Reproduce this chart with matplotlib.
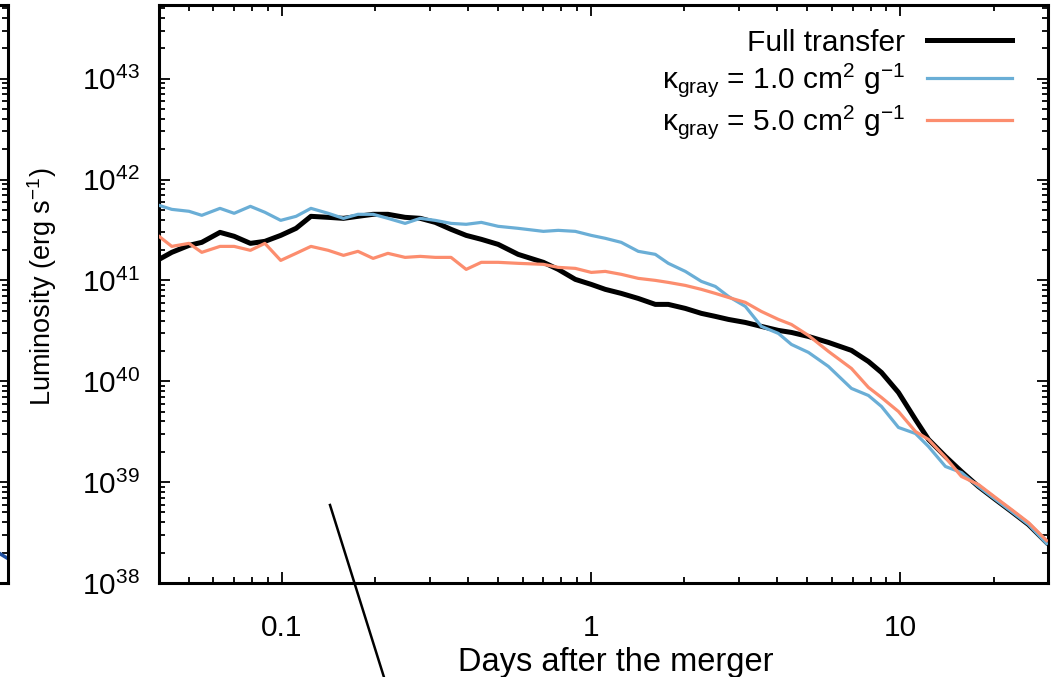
import numpy as np
import matplotlib
matplotlib.use('Agg')
import matplotlib.pyplot as plt
from matplotlib.lines import Line2D

plt.rcParams['font.family'] = ['Liberation Sans', 'DejaVu Sans']
plt.rcParams['mathtext.fontset'] = 'custom'
plt.rcParams['mathtext.rm'] = 'Liberation Sans'
plt.rcParams['mathtext.it'] = 'Liberation Sans:italic'
plt.rcParams['mathtext.bf'] = 'Liberation Sans:bold'

# Data: days after merger, log10 luminosity (erg/s)
days = [0.040, 0.044, 0.050, 0.055, 0.063, 0.070, 0.079, 0.088, 0.099, 0.111,
        0.124, 0.141, 0.158, 0.176, 0.197, 0.220, 0.250, 0.280, 0.313, 0.352,
        0.394, 0.441, 0.500, 0.580, 0.700, 0.782, 0.888, 1.000, 1.110, 1.250,
        1.419, 1.611, 1.775, 2.015, 2.270, 2.519, 2.777, 3.150, 3.549, 4.030,
        4.439, 5.040, 5.848, 6.941, 7.878, 8.682, 9.851, 11.18, 12.32, 13.98,
        15.75, 17.88, 20.30, 22.87, 25.95, 29.69]

logL_full = [41.208, 41.278, 41.347, 41.377, 41.476, 41.437, 41.367, 41.387, 41.446, 41.516,
             41.635, 41.625, 41.615, 41.635, 41.655, 41.655, 41.625, 41.615, 41.575, 41.506,
             41.446, 41.407, 41.357, 41.258, 41.179, 41.109, 41.010, 40.960, 40.911, 40.871,
             40.821, 40.762, 40.762, 40.722, 40.673, 40.643, 40.613, 40.583, 40.544, 40.504,
             40.484, 40.444, 40.385, 40.306, 40.196, 40.087, 39.889, 39.621, 39.423, 39.254,
             39.105, 38.956, 38.827, 38.708, 38.579, 38.401]

logL_k1 = [41.744, 41.704, 41.685, 41.645, 41.714, 41.665, 41.734, 41.675, 41.595, 41.635,
           41.714, 41.665, 41.615, 41.655, 41.655, 41.615, 41.565, 41.615, 41.595, 41.565,
           41.556, 41.575, 41.536, 41.516, 41.486, 41.496, 41.486, 41.446, 41.417, 41.377,
           41.288, 41.258, 41.169, 41.089, 40.990, 40.940, 40.841, 40.742, 40.544, 40.474,
           40.365, 40.286, 40.147, 39.929, 39.859, 39.750, 39.542, 39.482, 39.353, 39.155,
           39.095, 38.956, 38.827, 38.708, 38.579, 38.391]

logL_k5 = [41.437, 41.337, 41.367, 41.278, 41.337, 41.337, 41.298, 41.367, 41.198, 41.268,
           41.337, 41.298, 41.248, 41.288, 41.218, 41.268, 41.228, 41.238, 41.228, 41.228,
           41.109, 41.179, 41.179, 41.169, 41.159, 41.129, 41.119, 41.079, 41.089, 41.060,
           41.020, 41.000, 40.980, 40.950, 40.911, 40.871, 40.831, 40.782, 40.692, 40.613,
           40.563, 40.454, 40.296, 40.127, 39.939, 39.839, 39.700, 39.502, 39.423, 39.244,
           39.056, 38.976, 38.847, 38.728, 38.599, 38.421]

# neighbouring (cropped) panel on the left
left_days = [25.95, 29.69]
left_logL = [38.36, 38.25]

labels = ['Full transfer',
          'κ$_{\\mathregular{gray}}$ = 1.0 cm$^{\\mathregular{2}}$ g$^{\\mathregular{-1}}$',
          'κ$_{\\mathregular{gray}}$ = 5.0 cm$^{\\mathregular{2}}$ g$^{\\mathregular{-1}}$']
xtick_vals = [0.1, 1, 10]
xtick_labels = ['0.1', '1', '10']

W, H = 1056, 677
fig = plt.figure(figsize=(W / 100, H / 100), dpi=100)

def px_box(x0, y0, x1, y1):
    return [x0 / W, 1 - y1 / H, (x1 - x0) / W, (y1 - y0) / H]

def style_axes(ax):
    ax.set_xscale('log')
    ax.set_yscale('log')
    ax.set_xlim(0.04, 30)
    ax.set_ylim(1e38, 10 ** 43.73)
    for s in ax.spines.values():
        s.set_linewidth(2.2)
    ax.tick_params(which='both', direction='in', top=True, right=True, width=1.3)
    ax.tick_params(which='major', length=8)
    ax.tick_params(which='minor', length=4)

# left partial panel
ax0 = fig.add_axes(px_box(8 - 889, 5, 8, 583))
style_axes(ax0)
ax0.plot(left_days, 10 ** np.array(left_logL), color='#1f4fa0', lw=2.5)
ax0.tick_params(which='both', labelleft=False, labelbottom=False)

# main panel
ax = fig.add_axes(px_box(159, 5, 1048, 583))
style_axes(ax)
ax.plot(days, 10 ** np.array(logL_full), color='black', lw=3.6, label=labels[0], zorder=3)
ax.plot(days, 10 ** np.array(logL_k1), color='#6aaed6', lw=2.3, label=labels[1], zorder=4)
ax.plot(days, 10 ** np.array(logL_k5), color='#fc8d6e', lw=2.3, label=labels[2], zorder=4)

ax.set_xticks(xtick_vals)
ax.set_xticklabels(xtick_labels)
ax.set_yticks([10.0 ** k for k in range(38, 44)])
ax.tick_params(axis='x', which='major', labelsize=21.5, pad=22)
ax.tick_params(axis='y', which='major', labelsize=21.5, pad=14)

ax.set_xlabel('Days after the merger', fontsize=23.5)
ax.xaxis.set_label_coords(0.514, -0.11)
ax.set_ylabel('Luminosity (erg s$^{\\mathregular{-1}}$)', fontsize=19.5)
ax.yaxis.set_label_coords(-0.112, 0.512)

ax.legend(loc='upper right', bbox_to_anchor=(0.983, 0.995), frameon=False,
          markerfirst=False, fontsize=21.5, handlelength=2.85, handletextpad=0.73,
          labelspacing=0.15, borderaxespad=0.3)

# annotation line crossing the lower part of the figure
fig.add_artist(Line2D([330 / W, 388 / W], [1 - 505 / H, 1 - 690 / H],
                      transform=fig.transFigure, color='black', lw=1.8, clip_on=False))

fig.savefig('out.png', dpi=100)
